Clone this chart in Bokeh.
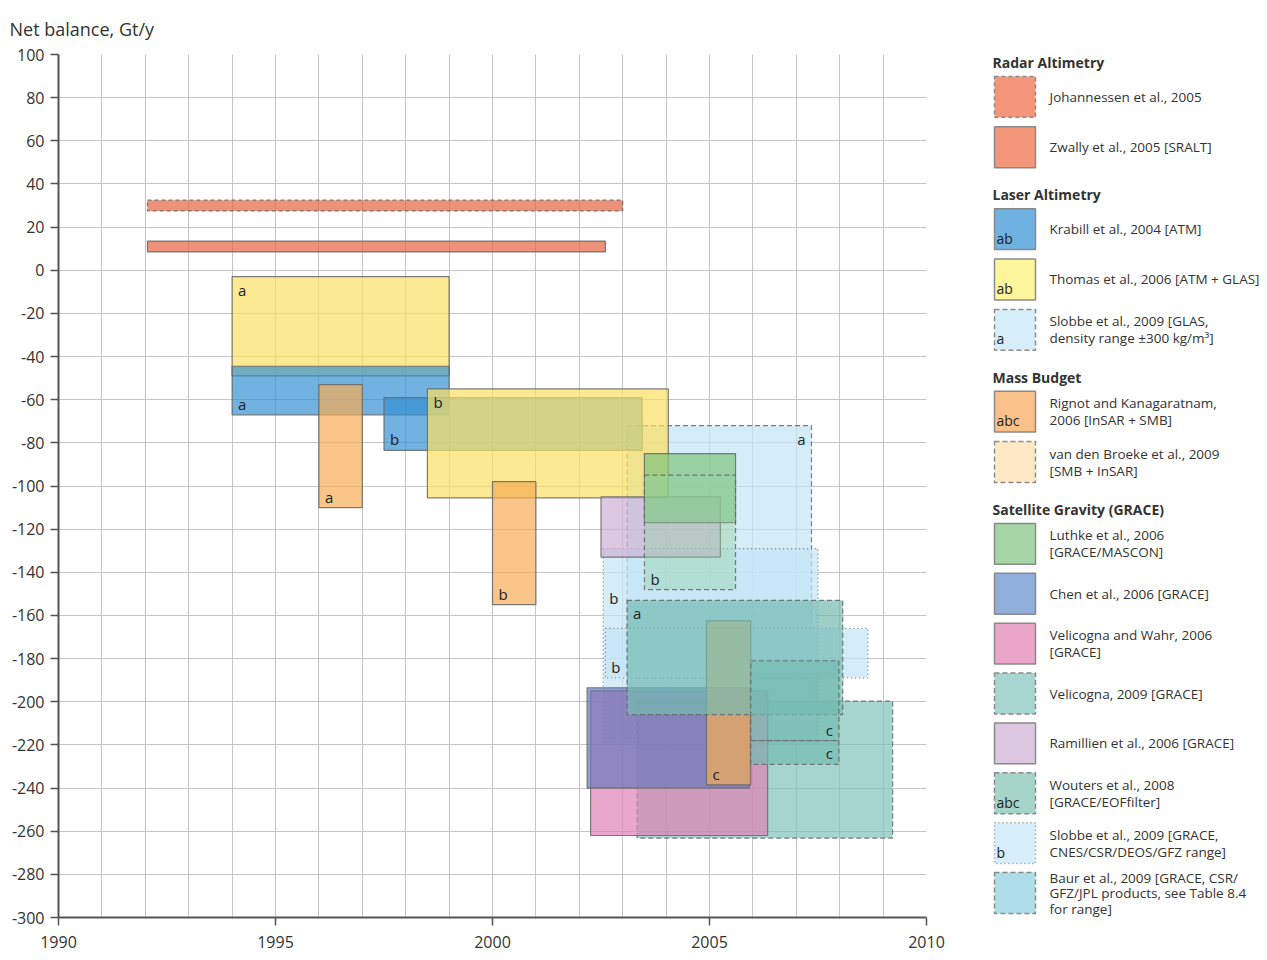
from bokeh.plotting import figure
from bokeh.layouts import row
from bokeh.models import (Range1d, SingleIntervalTicker, FixedTicker, CustomJSTickFormatter,
                          ColumnDataSource, Label)
from bokeh.core.properties import value
from bokeh.embed import file_html
from bokeh.resources import INLINE

FONT = "Open Sans"

# ---------------- data ----------------
box_study = ["Johannessen", "Zwally", "SlobbeGLAS", "Thomas", "Krabill", "Krabill", "Thomas",
             "Rignot", "Rignot", "SlobbeGRACE", "SlobbeGRACE", "Ramillien", "Velicogna2009",
             "VelicognaWahr", "Chen", "Rignot", "Luthke", "Wouters", "Wouters", "Wouters", "Wouters"]
box_start = [1992.05, 1992.05, 2003.1, 1994.0, 1994.0, 1997.5, 1998.5,
             1996.0, 2000.0, 2002.55, 2002.6, 2002.5, 2003.33,
             2002.26, 2002.18, 2004.93, 2003.5, 2003.1, 2003.5, 2005.95, 2005.95]
box_end = [2003.0, 2002.6, 2007.35, 1999.0, 1999.0, 2003.45, 2004.05,
           1997.0, 2001.0, 2007.5, 2008.65, 2005.25, 2009.22,
           2006.34, 2005.92, 2005.95, 2005.6, 2008.07, 2005.6, 2007.98, 2007.98]
box_high = [32.5, 13.5, -72, -3, -44.5, -59, -55,
            -53, -98, -129, -166, -105, -199.7,
            -195, -193.5, -162.5, -85, -153, -95, -181, -218]
box_low = [27.5, 8.5, -200, -49, -67, -83.5, -105.5,
           -110, -155, -219, -189, -133, -263.2,
           -262, -240, -238.5, -117, -206, -148, -218, -229]

label_text = ["a", "a", "a", "b", "b", "a", "b", "b", "b", "c", "a", "b", "c", "c"]
label_box = [2, 3, 4, 5, 6, 7, 8, 9, 10, 15, 17, 18, 19, 20]
label_anchor = ["tr", "tl", "bl", "bl", "tl", "bl", "bl", "tl", "bl", "bl", "tl", "bl", "br", "br"]
label_extra_dy = [0, 0, 0, 0, 0, 0, 0, 36, 0, 0, 0, 0, 0, 0]

x_ticks = [1990, 1995, 2000, 2005, 2010]
y_ticks = list(range(-300, 101, 20))

legend_groups = ["Radar Altimetry", "Laser Altimetry", "Mass Budget", "Satellite Gravity (GRACE)"]
legend_keys = ["Johannessen", "Zwally", "Krabill", "Thomas", "SlobbeGLAS", "Rignot", "vandenBroeke",
               "Luthke", "Chen", "VelicognaWahr", "Velicogna2009", "Ramillien", "Wouters",
               "SlobbeGRACE", "Baur"]
legend_labels = ["Johannessen et al., 2005",
                 "Zwally et al., 2005 [SRALT]",
                 "Krabill et al., 2004 [ATM]",
                 "Thomas et al., 2006 [ATM + GLAS]",
                 "Slobbe et al., 2009 [GLAS,\ndensity range \u00b1300 kg/m\u00b3]",
                 "Rignot and Kanagaratnam,\n2006 [InSAR + SMB]",
                 "van den Broeke et al., 2009\n[SMB + InSAR]",
                 "Luthke et al., 2006\n[GRACE/MASCON]",
                 "Chen et al., 2006 [GRACE]",
                 "Velicogna and Wahr, 2006\n[GRACE]",
                 "Velicogna, 2009 [GRACE]",
                 "Ramillien et al., 2006 [GRACE]",
                 "Wouters et al., 2008\n[GRACE/EOFfilter]",
                 "Slobbe et al., 2009 [GRACE,\nCNES/CSR/DEOS/GFZ range]",
                 "Baur et al., 2009 [GRACE, CSR/\nGFZ/JPL products, see Table 8.4\nfor range]"]
legend_group = [0, 0, 1, 1, 1, 2, 2, 3, 3, 3, 3, 3, 3, 3, 3]
legend_letters = ["", "", "ab", "ab", "a", "abc", "", "", "", "", "", "", "abc", "b", ""]

# ---------------- styles ----------------
chart_color = {
    "Johannessen": "#E46241", "Zwally": "#E46241", "Thomas": "#FCE063", "Krabill": "#3491D3",
    "SlobbeGLAS": "#C3E5F6", "SlobbeGRACE": "#C3E5F6", "Rignot": "#F6AC56", "vandenBroeke": "#FFDDAA",
    "Luthke": "#80C57F", "Chen": "#6A78BA", "VelicognaWahr": "#E081B5", "Velicogna2009": "#80C3BA",
    "Ramillien": "#CDB0D6", "Wouters": "#73BBB0", "Baur": "#8FD0E0",
}
legend_color = {
    "Johannessen": "#F4967A", "Zwally": "#F4967A", "Krabill": "#6FB1E0", "Thomas": "#FFF59D",
    "SlobbeGLAS": "#D6EEF9", "Rignot": "#F9C189", "vandenBroeke": "#FFE8C6", "Luthke": "#A6D6A5",
    "Chen": "#8FAEDA", "VelicognaWahr": "#E9A6C9", "Velicogna2009": "#A8D5D0", "Ramillien": "#DCC8E1",
    "Wouters": "#A6D4C8", "SlobbeGRACE": "#D6EEF9", "Baur": "#ADDEEA",
}
dash_of = {
    "Johannessen": "4 3", "SlobbeGLAS": "5 3", "vandenBroeke": "5 3", "Velicogna2009": "5 3",
    "Wouters": "5 3", "Baur": "5 3", "SlobbeGRACE": "1 3",
}
# per-box fill overrides (index -> (colour, alpha))
fill_override = {18: ("#93CFA0", 0.4)}

W_MAIN, W_LEG, H = 948, 313, 956
BT, BB = 52, 39

p = figure(width=W_MAIN, height=H, x_range=Range1d(1990, 2010), y_range=Range1d(-300, 100),
           output_backend="svg", toolbar_location=None,
           min_border_left=58, min_border_right=22, min_border_top=BT, min_border_bottom=BB)
p.outline_line_color = None
p.background_fill_color = "white"

p.title.text = "Net balance, Gt/y"
p.title.text_font = FONT
p.title.text_font_size = "18px"
p.title.text_font_style = "normal"
p.title.text_color = "#333333"
p.title.align = "left"
p.title.offset = -49
p.title.standoff = 28

p.xgrid.ticker = SingleIntervalTicker(interval=1)
p.ygrid.ticker = SingleIntervalTicker(interval=20)
for g in (p.xgrid[0], p.ygrid[0]):
    g.grid_line_color = "#C4C4C4"
    g.grid_line_width = 1

fmt = CustomJSTickFormatter(code="return tick.toFixed(0);")
p.xaxis.ticker = FixedTicker(ticks=x_ticks)
p.yaxis.ticker = FixedTicker(ticks=y_ticks)
for ax in (p.xaxis[0], p.yaxis[0]):
    ax.formatter = fmt
    ax.axis_line_color = "#555555"
    ax.axis_line_width = 2
    ax.major_tick_line_color = "#555555"
    ax.major_tick_line_width = 1.5
    ax.major_tick_out = 8
    ax.major_tick_in = 0
    ax.minor_tick_line_color = None
    ax.major_label_text_font = FONT
    ax.major_label_text_font_size = "16px"
    ax.major_label_text_color = "#333333"
p.yaxis.major_label_standoff = 6
p.xaxis.major_label_standoff = 10

# boxes
for i in range(len(box_study)):
    s = box_study[i]
    col, alpha = fill_override.get(i, (chart_color[s], 0.7))
    src = ColumnDataSource(dict(left=[box_start[i]], right=[box_end[i]],
                                top=[box_high[i]], bottom=[box_low[i]]))
    p.quad(left="left", right="right", top="top", bottom="bottom", source=src,
           fill_color=col, fill_alpha=alpha,
           line_color="#666666", line_alpha=0.85, line_width=1.2,
           line_dash=dash_of.get(s, "solid"))

# letter labels in boxes
for k in range(len(label_text)):
    b = label_box[k]
    anc = label_anchor[k]
    x = box_start[b] if anc[1] == "l" else box_end[b]
    y = box_high[b] if anc[0] == "t" else box_low[b]
    p.text(x=[x], y=[y], text=[label_text[k]],
           text_align="left" if anc[1] == "l" else "right",
           text_baseline="top" if anc[0] == "t" else "bottom",
           x_offset=6 if anc[1] == "l" else -6,
           y_offset=(3 if anc[0] == "t" else -1) + label_extra_dy[k],
           text_font=value(FONT), text_font_size="15px", text_color="#222222")

# ---------------- legend panel (page-pixel coordinates, y downward) ----------------
lg = figure(width=W_LEG, height=H, x_range=Range1d(0, W_LEG),
            y_range=Range1d(BT + 865 + 1, BT + 1),
            output_backend="svg", toolbar_location=None,
            min_border_left=0, min_border_right=0, min_border_top=BT, min_border_bottom=BB)
lg.axis.visible = False
lg.grid.visible = False
lg.outline_line_color = None


def add_label(fig, x, y, txt, size="13.5px", style="normal", baseline="middle"):
    fig.add_layout(Label(x=x, y=y, text=txt, text_font=FONT, text_font_size=size,
                         text_font_style=style, text_color="#333333",
                         text_baseline=baseline, text_align="left"))


y_head = 61.0
sw_h = 41
for gi, gname in enumerate(legend_groups):
    step = 50.5 if gi < 3 else 50.0
    add_label(lg, 44, y_head, gname, size="14px", style="bold")
    top = y_head + 14
    last_top = top
    for j, key in enumerate(legend_keys):
        if legend_group[j] != gi:
            continue
        lg.quad(left=[46], right=[87], top=[top], bottom=[top + sw_h],
                fill_color=legend_color[key], line_color="#8A8A8A", line_width=1.5,
                line_dash=dash_of.get(key, "solid"))
        if legend_letters[j]:
            lg.text(x=[48], y=[top + sw_h - 2], text=[legend_letters[j]], text_baseline="bottom",
                    text_align="left", text_font=value(FONT), text_font_size="14px",
                    text_color="#222222")
        lines = legend_labels[j].split("\n")
        n = len(lines)
        for li, ln in enumerate(lines):
            if n < 3:
                yy = top + sw_h / 2 + (li - (n - 1) / 2) * 17
            else:
                yy = top + 5 + li * 15.5
            add_label(lg, 101, yy, ln)
        last_top = top
        top += step
    y_head = last_top + sw_h + 27

layout = row(p, lg)
open("out.html", "w").write(file_html(layout, INLINE))
